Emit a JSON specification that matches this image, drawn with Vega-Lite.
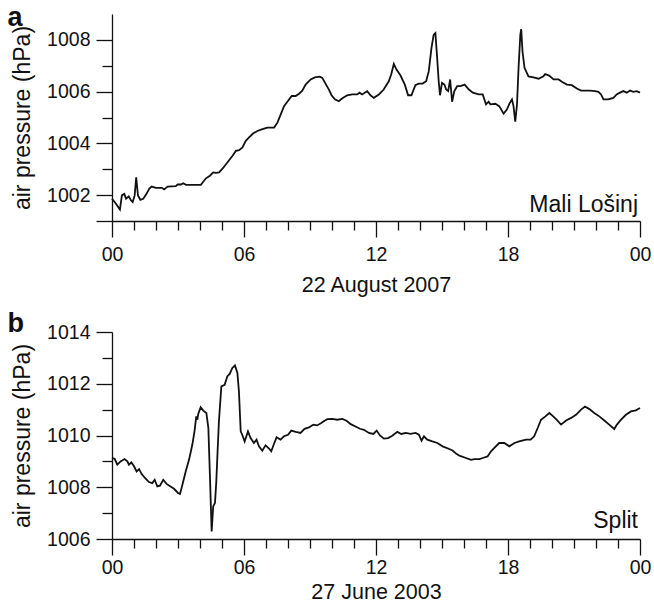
{
  "$schema": "https://vega.github.io/schema/vega-lite/v6.json",
  "background": "white",
  "padding": {"left": 7, "top": 4, "right": 0, "bottom": 0},
  "bounds": "flush",
  "spacing": 111,
  "config": {
    "font": "Liberation Sans",
    "view": {"stroke": null},
    "axis": {
      "grid": false,
      "domainColor": "#111111",
      "domainWidth": 1.3,
      "tickColor": "#111111",
      "tickWidth": 1.3,
      "labelColor": "#111111",
      "titleColor": "#111111",
      "labelFont": "Liberation Sans",
      "titleFont": "Liberation Sans",
      "labelFontSize": 19.5,
      "titleFontSize": 21.5,
      "titleFontWeight": "normal"
    },
    "axisLeft": {"titleFontSize": 23},
    "title": {"font": "Liberation Sans", "color": "#111111"}
  },
  "datasets": {
    "mali_losinj": [
      {"hour": 0.0, "hPa": 1001.86}, {"hour": 0.18, "hPa": 1001.67}, {"hour": 0.36, "hPa": 1001.44},
      {"hour": 0.45, "hPa": 1001.99}, {"hour": 0.56, "hPa": 1002.05}, {"hour": 0.64, "hPa": 1001.86},
      {"hour": 0.76, "hPa": 1001.95}, {"hour": 0.86, "hPa": 1001.8}, {"hour": 0.94, "hPa": 1001.73},
      {"hour": 1.03, "hPa": 1001.99}, {"hour": 1.1, "hPa": 1002.69}, {"hour": 1.18, "hPa": 1001.99},
      {"hour": 1.29, "hPa": 1001.82}, {"hour": 1.42, "hPa": 1001.86}, {"hour": 1.57, "hPa": 1002.05},
      {"hour": 1.69, "hPa": 1002.24}, {"hour": 1.8, "hPa": 1002.33}, {"hour": 2.0, "hPa": 1002.28},
      {"hour": 2.27, "hPa": 1002.28}, {"hour": 2.37, "hPa": 1002.22}, {"hour": 2.53, "hPa": 1002.33},
      {"hour": 2.9, "hPa": 1002.35}, {"hour": 2.98, "hPa": 1002.41}, {"hour": 3.13, "hPa": 1002.41},
      {"hour": 3.24, "hPa": 1002.46}, {"hour": 3.36, "hPa": 1002.4}, {"hour": 4.04, "hPa": 1002.4},
      {"hour": 4.27, "hPa": 1002.65}, {"hour": 4.45, "hPa": 1002.75}, {"hour": 4.6, "hPa": 1002.88},
      {"hour": 4.72, "hPa": 1002.86}, {"hour": 4.87, "hPa": 1002.88}, {"hour": 5.05, "hPa": 1003.05},
      {"hour": 5.25, "hPa": 1003.27}, {"hour": 5.48, "hPa": 1003.52}, {"hour": 5.63, "hPa": 1003.71},
      {"hour": 5.78, "hPa": 1003.74}, {"hour": 5.93, "hPa": 1003.84}, {"hour": 6.08, "hPa": 1004.1},
      {"hour": 6.23, "hPa": 1004.23}, {"hour": 6.41, "hPa": 1004.38}, {"hour": 6.61, "hPa": 1004.48},
      {"hour": 6.84, "hPa": 1004.55}, {"hour": 7.06, "hPa": 1004.61}, {"hour": 7.37, "hPa": 1004.61},
      {"hour": 7.52, "hPa": 1004.8}, {"hour": 7.67, "hPa": 1005.12}, {"hour": 7.82, "hPa": 1005.44},
      {"hour": 7.97, "hPa": 1005.61}, {"hour": 8.17, "hPa": 1005.83}, {"hour": 8.35, "hPa": 1005.83},
      {"hour": 8.5, "hPa": 1005.92}, {"hour": 8.65, "hPa": 1006.04}, {"hour": 8.8, "hPa": 1006.27},
      {"hour": 9.03, "hPa": 1006.47}, {"hour": 9.22, "hPa": 1006.55}, {"hour": 9.44, "hPa": 1006.58},
      {"hour": 9.56, "hPa": 1006.53}, {"hour": 9.71, "hPa": 1006.3}, {"hour": 9.86, "hPa": 1006.08},
      {"hour": 9.98, "hPa": 1005.86}, {"hour": 10.13, "hPa": 1005.7}, {"hour": 10.31, "hPa": 1005.63},
      {"hour": 10.47, "hPa": 1005.74}, {"hour": 10.69, "hPa": 1005.86}, {"hour": 10.92, "hPa": 1005.89},
      {"hour": 11.15, "hPa": 1005.89}, {"hour": 11.25, "hPa": 1005.96}, {"hour": 11.37, "hPa": 1005.89},
      {"hour": 11.6, "hPa": 1006.02}, {"hour": 11.75, "hPa": 1005.86}, {"hour": 11.9, "hPa": 1005.76},
      {"hour": 12.13, "hPa": 1005.89}, {"hour": 12.35, "hPa": 1006.08}, {"hour": 12.58, "hPa": 1006.4},
      {"hour": 12.69, "hPa": 1006.66}, {"hour": 12.81, "hPa": 1007.07}, {"hour": 12.93, "hPa": 1006.85},
      {"hour": 13.11, "hPa": 1006.63}, {"hour": 13.31, "hPa": 1006.27}, {"hour": 13.46, "hPa": 1005.86},
      {"hour": 13.61, "hPa": 1005.86}, {"hour": 13.79, "hPa": 1006.25}, {"hour": 13.94, "hPa": 1006.31},
      {"hour": 14.12, "hPa": 1006.31}, {"hour": 14.28, "hPa": 1006.4}, {"hour": 14.4, "hPa": 1006.79},
      {"hour": 14.52, "hPa": 1007.68}, {"hour": 14.62, "hPa": 1008.19}, {"hour": 14.7, "hPa": 1008.26},
      {"hour": 14.78, "hPa": 1007.3}, {"hour": 14.85, "hPa": 1006.4}, {"hour": 14.91, "hPa": 1005.86},
      {"hour": 15.0, "hPa": 1006.34}, {"hour": 15.11, "hPa": 1006.27}, {"hour": 15.19, "hPa": 1006.08},
      {"hour": 15.28, "hPa": 1006.02}, {"hour": 15.37, "hPa": 1006.47}, {"hour": 15.46, "hPa": 1005.61},
      {"hour": 15.56, "hPa": 1006.02}, {"hour": 15.69, "hPa": 1006.21}, {"hour": 15.84, "hPa": 1006.21},
      {"hour": 16.03, "hPa": 1006.27}, {"hour": 16.22, "hPa": 1006.08}, {"hour": 16.4, "hPa": 1005.96},
      {"hour": 16.67, "hPa": 1005.89}, {"hour": 16.85, "hPa": 1005.89}, {"hour": 17.0, "hPa": 1005.51},
      {"hour": 17.12, "hPa": 1005.61}, {"hour": 17.2, "hPa": 1005.51}, {"hour": 17.42, "hPa": 1005.53},
      {"hour": 17.6, "hPa": 1005.44}, {"hour": 17.8, "hPa": 1005.15}, {"hour": 17.95, "hPa": 1005.31},
      {"hour": 18.06, "hPa": 1005.53}, {"hour": 18.18, "hPa": 1005.7}, {"hour": 18.25, "hPa": 1005.44},
      {"hour": 18.33, "hPa": 1004.84}, {"hour": 18.41, "hPa": 1005.51}, {"hour": 18.48, "hPa": 1006.92},
      {"hour": 18.56, "hPa": 1008.19}, {"hour": 18.6, "hPa": 1008.42}, {"hour": 18.66, "hPa": 1007.55},
      {"hour": 18.75, "hPa": 1006.92}, {"hour": 18.93, "hPa": 1006.59}, {"hour": 19.16, "hPa": 1006.55},
      {"hour": 19.39, "hPa": 1006.5}, {"hour": 19.61, "hPa": 1006.59}, {"hour": 19.69, "hPa": 1006.68},
      {"hour": 19.87, "hPa": 1006.62}, {"hour": 20.07, "hPa": 1006.47}, {"hour": 20.3, "hPa": 1006.47},
      {"hour": 20.45, "hPa": 1006.38}, {"hour": 20.68, "hPa": 1006.27}, {"hour": 20.9, "hPa": 1006.25},
      {"hour": 21.13, "hPa": 1006.12}, {"hour": 21.32, "hPa": 1006.04}, {"hour": 21.51, "hPa": 1006.04},
      {"hour": 21.73, "hPa": 1006.04}, {"hour": 21.96, "hPa": 1006.02}, {"hour": 22.11, "hPa": 1005.99},
      {"hour": 22.23, "hPa": 1005.89}, {"hour": 22.34, "hPa": 1005.7}, {"hour": 22.56, "hPa": 1005.7},
      {"hour": 22.79, "hPa": 1005.76}, {"hour": 22.94, "hPa": 1005.89}, {"hour": 23.09, "hPa": 1005.96},
      {"hour": 23.24, "hPa": 1006.02}, {"hour": 23.4, "hPa": 1005.96}, {"hour": 23.55, "hPa": 1006.04},
      {"hour": 23.7, "hPa": 1005.99}, {"hour": 23.85, "hPa": 1006.02}, {"hour": 24.0, "hPa": 1005.96}
    ],
    "split": [
      {"hour": 0.0, "hPa": 1009.13}, {"hour": 0.12, "hPa": 1009.1}, {"hour": 0.24, "hPa": 1008.87},
      {"hour": 0.39, "hPa": 1009.0}, {"hour": 0.57, "hPa": 1009.09}, {"hour": 0.7, "hPa": 1009.0},
      {"hour": 0.77, "hPa": 1008.87}, {"hour": 0.88, "hPa": 1008.96}, {"hour": 1.0, "hPa": 1008.81},
      {"hour": 1.12, "hPa": 1008.61}, {"hour": 1.23, "hPa": 1008.7}, {"hour": 1.35, "hPa": 1008.51},
      {"hour": 1.53, "hPa": 1008.33}, {"hour": 1.68, "hPa": 1008.2}, {"hour": 1.83, "hPa": 1008.16},
      {"hour": 1.94, "hPa": 1008.29}, {"hour": 2.06, "hPa": 1008.03}, {"hour": 2.18, "hPa": 1008.06},
      {"hour": 2.33, "hPa": 1008.29}, {"hour": 2.48, "hPa": 1008.13}, {"hour": 2.66, "hPa": 1008.03},
      {"hour": 2.82, "hPa": 1007.94}, {"hour": 3.0, "hPa": 1007.78}, {"hour": 3.09, "hPa": 1007.74},
      {"hour": 3.2, "hPa": 1008.1}, {"hour": 3.35, "hPa": 1008.61}, {"hour": 3.5, "hPa": 1009.06},
      {"hour": 3.65, "hPa": 1009.64}, {"hour": 3.75, "hPa": 1010.16}, {"hour": 3.83, "hPa": 1010.74},
      {"hour": 3.88, "hPa": 1010.61}, {"hour": 3.92, "hPa": 1010.83}, {"hour": 4.03, "hPa": 1011.09},
      {"hour": 4.15, "hPa": 1010.96}, {"hour": 4.29, "hPa": 1010.87}, {"hour": 4.38, "hPa": 1010.29},
      {"hour": 4.45, "hPa": 1008.48}, {"hour": 4.53, "hPa": 1006.29}, {"hour": 4.6, "hPa": 1007.26},
      {"hour": 4.68, "hPa": 1007.39}, {"hour": 4.74, "hPa": 1008.2}, {"hour": 4.8, "hPa": 1009.4},
      {"hour": 4.86, "hPa": 1010.54}, {"hour": 4.97, "hPa": 1011.9}, {"hour": 5.12, "hPa": 1011.96},
      {"hour": 5.24, "hPa": 1012.28}, {"hour": 5.35, "hPa": 1012.38}, {"hour": 5.47, "hPa": 1012.61},
      {"hour": 5.59, "hPa": 1012.71}, {"hour": 5.7, "hPa": 1012.42}, {"hour": 5.77, "hPa": 1011.7},
      {"hour": 5.85, "hPa": 1010.16}, {"hour": 5.92, "hPa": 1010.03}, {"hour": 6.03, "hPa": 1009.77},
      {"hour": 6.18, "hPa": 1010.16}, {"hour": 6.3, "hPa": 1009.9}, {"hour": 6.45, "hPa": 1009.71},
      {"hour": 6.57, "hPa": 1009.84}, {"hour": 6.68, "hPa": 1009.58}, {"hour": 6.83, "hPa": 1009.41},
      {"hour": 6.98, "hPa": 1009.62}, {"hour": 7.14, "hPa": 1009.49}, {"hour": 7.24, "hPa": 1009.39},
      {"hour": 7.36, "hPa": 1009.67}, {"hour": 7.48, "hPa": 1009.93}, {"hour": 7.66, "hPa": 1009.84},
      {"hour": 7.82, "hPa": 1009.97}, {"hour": 8.0, "hPa": 1010.03}, {"hour": 8.15, "hPa": 1010.19},
      {"hour": 8.35, "hPa": 1010.14}, {"hour": 8.57, "hPa": 1010.1}, {"hour": 8.75, "hPa": 1010.26},
      {"hour": 8.95, "hPa": 1010.31}, {"hour": 9.15, "hPa": 1010.42}, {"hour": 9.33, "hPa": 1010.39},
      {"hour": 9.51, "hPa": 1010.48}, {"hour": 9.66, "hPa": 1010.57}, {"hour": 9.79, "hPa": 1010.63},
      {"hour": 10.01, "hPa": 1010.64}, {"hour": 10.24, "hPa": 1010.61}, {"hour": 10.47, "hPa": 1010.64},
      {"hour": 10.66, "hPa": 1010.57}, {"hour": 10.85, "hPa": 1010.44}, {"hour": 11.07, "hPa": 1010.35},
      {"hour": 11.27, "hPa": 1010.26}, {"hour": 11.45, "hPa": 1010.22}, {"hour": 11.68, "hPa": 1010.1},
      {"hour": 11.88, "hPa": 1010.06}, {"hour": 12.03, "hPa": 1010.19}, {"hour": 12.18, "hPa": 1010.0},
      {"hour": 12.36, "hPa": 1009.88}, {"hour": 12.55, "hPa": 1009.9}, {"hour": 12.74, "hPa": 1009.99},
      {"hour": 12.97, "hPa": 1010.14}, {"hour": 13.15, "hPa": 1010.06}, {"hour": 13.35, "hPa": 1010.1},
      {"hour": 13.57, "hPa": 1010.06}, {"hour": 13.8, "hPa": 1010.1}, {"hour": 13.95, "hPa": 1010.03},
      {"hour": 14.07, "hPa": 1009.8}, {"hour": 14.18, "hPa": 1009.97}, {"hour": 14.33, "hPa": 1009.84},
      {"hour": 14.56, "hPa": 1009.77}, {"hour": 14.79, "hPa": 1009.71}, {"hour": 15.03, "hPa": 1009.58},
      {"hour": 15.33, "hPa": 1009.48}, {"hour": 15.48, "hPa": 1009.42}, {"hour": 15.64, "hPa": 1009.3},
      {"hour": 15.79, "hPa": 1009.22}, {"hour": 16.09, "hPa": 1009.13}, {"hour": 16.32, "hPa": 1009.06},
      {"hour": 16.47, "hPa": 1009.09}, {"hour": 16.7, "hPa": 1009.09}, {"hour": 16.92, "hPa": 1009.15},
      {"hour": 17.07, "hPa": 1009.19}, {"hour": 17.23, "hPa": 1009.39}, {"hour": 17.38, "hPa": 1009.52},
      {"hour": 17.6, "hPa": 1009.71}, {"hour": 17.83, "hPa": 1009.71}, {"hour": 18.06, "hPa": 1009.58},
      {"hour": 18.29, "hPa": 1009.71}, {"hour": 18.51, "hPa": 1009.77}, {"hour": 18.82, "hPa": 1009.84},
      {"hour": 19.03, "hPa": 1009.84}, {"hour": 19.19, "hPa": 1009.97}, {"hour": 19.35, "hPa": 1010.29},
      {"hour": 19.5, "hPa": 1010.61}, {"hour": 19.7, "hPa": 1010.74}, {"hour": 19.88, "hPa": 1010.87},
      {"hour": 20.03, "hPa": 1010.76}, {"hour": 20.21, "hPa": 1010.61}, {"hour": 20.41, "hPa": 1010.42},
      {"hour": 20.64, "hPa": 1010.58}, {"hour": 20.87, "hPa": 1010.68}, {"hour": 21.09, "hPa": 1010.8},
      {"hour": 21.32, "hPa": 1011.0}, {"hour": 21.5, "hPa": 1011.12}, {"hour": 21.7, "hPa": 1011.02},
      {"hour": 21.92, "hPa": 1010.87}, {"hour": 22.15, "hPa": 1010.74}, {"hour": 22.38, "hPa": 1010.58},
      {"hour": 22.6, "hPa": 1010.42}, {"hour": 22.83, "hPa": 1010.25}, {"hour": 22.95, "hPa": 1010.42},
      {"hour": 23.14, "hPa": 1010.61}, {"hour": 23.36, "hPa": 1010.8}, {"hour": 23.59, "hPa": 1010.93},
      {"hour": 23.81, "hPa": 1010.97}, {"hour": 24.0, "hPa": 1011.06}
    ]
  },
  "vconcat": [
    {
      "width": 528,
      "height": 207,
      "title": {"text": "a", "anchor": "start", "frame": "bounds", "orient": "top", "offset": -18, "dx": -4, "fontSize": 27, "fontWeight": "bold"},
      "resolve": {"axis": {"x": "independent", "y": "independent"}},
      "layer": [
        {
          "data": {"name": "mali_losinj"},
          "mark": {"type": "line", "color": "#111111", "strokeWidth": 1.8, "clip": false},
          "encoding": {
            "x": {
              "field": "hour", "type": "quantitative",
              "scale": {"domain": [0, 24], "nice": false},
              "axis": {"orient": "bottom", "values": [0, 6, 12, 18, 24], "tickSize": 16, "labelPadding": 8, "labelFlush": false,
                       "labelExpr": "datum.value == 0 || datum.value == 24 ? '00' : (datum.value == 6 ? '06' : datum.label)",
                       "title": "22 August 2007", "titlePadding": 11}
            },
            "y": {
              "field": "hPa", "type": "quantitative",
              "scale": {"domain": [1001, 1009], "nice": false, "zero": false},
              "axis": {"orient": "left", "values": [1001, 1002, 1004, 1006, 1008], "tickSize": 16, "labelPadding": 6, "format": "d",
                       "labelExpr": "datum.value == 1001 ? '' : datum.label",
                       "title": "air pressure (hPa)", "titlePadding": 12}
            }
          }
        },
        {
          "data": {"values": [{"station": "Mali Lošinj"}]},
          "mark": {"type": "text", "align": "right", "baseline": "alphabetic", "fontSize": 23, "dx": -2, "color": "#111111"},
          "encoding": {
            "x": {"datum": 24, "type": "quantitative",
                  "axis": {"orient": "bottom", "values": [1, 2, 3, 4, 5, 7, 8, 9, 10, 11, 13, 14, 15, 16, 17, 19, 20, 21, 22, 23], "tickSize": 9, "labels": false, "domain": false, "title": null}},
            "y": {"datum": 1001.36, "type": "quantitative",
                  "axis": {"orient": "left", "values": [1003, 1005, 1007], "tickSize": 10, "labels": false, "domain": false, "title": null}},
            "text": {"field": "station"}
          }
        }
      ]
    },
    {
      "width": 528,
      "height": 207,
      "title": {"text": "b", "anchor": "start", "frame": "bounds", "orient": "top", "offset": -16, "dx": -4, "fontSize": 27, "fontWeight": "bold"},
      "resolve": {"axis": {"x": "independent", "y": "independent"}},
      "layer": [
        {
          "data": {"name": "split"},
          "mark": {"type": "line", "color": "#111111", "strokeWidth": 1.8, "clip": false},
          "encoding": {
            "x": {
              "field": "hour", "type": "quantitative",
              "scale": {"domain": [0, 24], "nice": false},
              "axis": {"orient": "bottom", "values": [0, 6, 12, 18, 24], "tickSize": 16, "labelPadding": 3, "labelFlush": false,
                       "labelExpr": "datum.value == 0 || datum.value == 24 ? '00' : (datum.value == 6 ? '06' : datum.label)",
                       "title": "27 June 2003", "titlePadding": 5}
            },
            "y": {
              "field": "hPa", "type": "quantitative",
              "scale": {"domain": [1006, 1014], "nice": false, "zero": false},
              "axis": {"orient": "left", "values": [1006, 1008, 1010, 1012, 1014], "tickSize": 16, "labelPadding": 6, "format": "d",
                       "title": "air pressure (hPa)", "titlePadding": 12}
            }
          }
        },
        {
          "data": {"values": [{"station": "Split"}]},
          "mark": {"type": "text", "align": "right", "baseline": "alphabetic", "fontSize": 23, "dx": -2, "color": "#111111"},
          "encoding": {
            "x": {"datum": 24, "type": "quantitative",
                  "axis": {"orient": "bottom", "values": [1, 2, 3, 4, 5, 7, 8, 9, 10, 11, 13, 14, 15, 16, 17, 19, 20, 21, 22, 23], "tickSize": 9, "labels": false, "domain": false, "title": null}},
            "y": {"datum": 1006.43, "type": "quantitative",
                  "axis": {"orient": "left", "values": [1007, 1009, 1011, 1013], "tickSize": 10, "labels": false, "domain": false, "title": null}},
            "text": {"field": "station"}
          }
        }
      ]
    }
  ]
}
